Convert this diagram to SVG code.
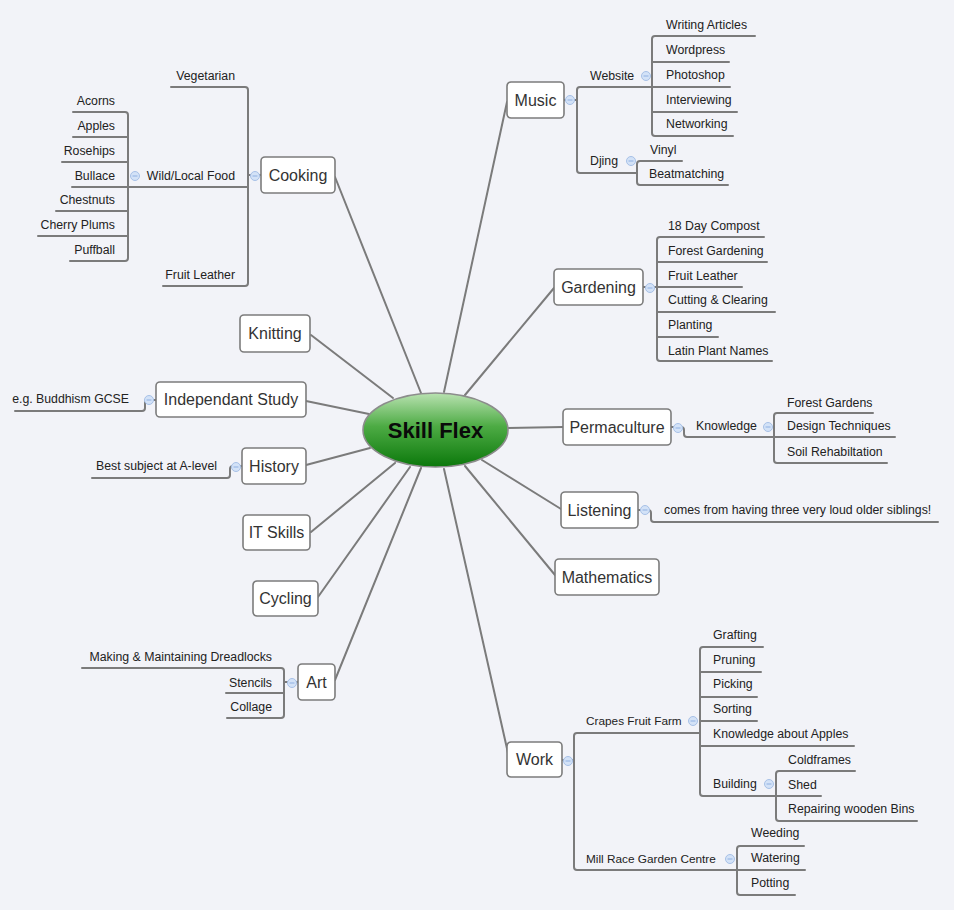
<svg xmlns="http://www.w3.org/2000/svg" width="954" height="910" viewBox="0 0 954 910">
<defs>
<linearGradient id="g" x1="0" y1="0" x2="0" y2="1">
<stop offset="0" stop-color="#b9e2b1"/>
<stop offset="0.45" stop-color="#4dab44"/>
<stop offset="1" stop-color="#0b780b"/>
</linearGradient>
<style>
.ln{stroke:#7b7b7b;stroke-width:2;fill:none;stroke-linecap:round}
.box{fill:#ffffff;stroke:#7c7c7c;stroke-width:1.6}
.nt{font-family:"Liberation Sans",Arial,sans-serif;font-size:16px;fill:#333;text-anchor:middle}
.t{font-family:"Liberation Sans",Arial,sans-serif;font-size:12.3px;fill:#222}
.s{font-size:11.8px}
.e{text-anchor:end}
.col{fill:#d3e2f7;stroke:#a7c1e7;stroke-width:1}
.mn{stroke:#8fb0e2;stroke-width:1}
</style>
</defs>
<rect x="0" y="0" width="954" height="910" fill="#f2f3f8"/>

<g id="connectors">
<path class="ln" d="M421,393 L335,177"/>
<path class="ln" d="M444,392 L507,102"/>
<path class="ln" d="M465,395 L554,288"/>
<path class="ln" d="M393,398 L311,335"/>
<path class="ln" d="M369,414 L306,401"/>
<path class="ln" d="M370,448 L306,465"/>
<path class="ln" d="M395,463 L311,532"/>
<path class="ln" d="M410,467 L318,597"/>
<path class="ln" d="M421,468 L335,680"/>
<path class="ln" d="M444,469 L508,753"/>
<path class="ln" d="M465,466 L555,575"/>
<path class="ln" d="M482,460 L561,509"/>
<path class="ln" d="M507,428 L563,427"/>

<!-- Cooking -->
<path class="ln" d="M248,175 L261,175"/>
<path class="ln" d="M171,87 L245,87 Q248,87 248,90 L248,283 Q248,286 245,286 L163,286"/>
<path class="ln" d="M72,187 L248,187"/>
<path class="ln" d="M73,112 L125,112 Q128,112 128,115 L128,258 Q128,261 125,261 L70,261"/>
<path class="ln" d="M73,137 L128,137 M62,162 L128,162 M56,211 L128,211 M38,236 L128,236"/>

<!-- Music -->
<path class="ln" d="M564,100 L577,100"/>
<path class="ln" d="M652,87 L580,87 Q577,87 577,90 L577,170 Q577,173 580,173 L637,173"/>
<path class="ln" d="M755,36 L655,36 Q652,36 652,39 L652,133 Q652,136 655,136 L733,136"/>
<path class="ln" d="M652,62 L729,62 M652,87 L730,87 M652,112 L737,112"/>
<path class="ln" d="M682,161 L640,161 Q637,161 637,164 L637,182 Q637,185 640,185 L728,185"/>

<!-- Gardening -->
<path class="ln" d="M643,287 L742,287"/>
<path class="ln" d="M764,237 L660,237 Q657,237 657,240 L657,358 Q657,361 660,361 L772,361"/>
<path class="ln" d="M657,262 L767,262 M657,312 L775,312 M657,337 L718,337"/>

<!-- Permaculture -->
<path class="ln" d="M671,427 L681,427 Q684,427 684,430 L684,434 Q684,437 687,437 L895,437"/>
<path class="ln" d="M873,413 L777,413 Q774,413 774,416 L774,460 Q774,463 777,463 L887,463"/>

<!-- Listening -->
<path class="ln" d="M638,510 L648,510 Q651,510 651,513 L651,519 Q651,522 654,522 L938,522"/>

<!-- Work -->
<path class="ln" d="M562,760 L574,760"/>
<path class="ln" d="M700,733 L577,733 Q574,733 574,736 L574,867 Q574,870 577,870 L805,870"/>
<path class="ln" d="M763,647 L703,647 Q700,647 700,650 L700,793 Q700,796 703,796 L821,796"/>
<path class="ln" d="M700,672 L761,672 M700,697 L757,697 M700,721 L757,721 M700,746 L854,746"/>
<path class="ln" d="M855,771 L779,771 Q776,771 776,774 L776,818 Q776,821 779,821 L917,821"/>
<path class="ln" d="M804,846 L740,846 Q737,846 737,849 L737,892 Q737,895 740,895 L795,895"/>

<!-- Independant Study / History -->
<path class="ln" d="M156,400 L148,400 Q145,400 145,403 L145,408 Q145,411 142,411 L15,411"/>
<path class="ln" d="M242,466 L233,466 Q230,466 230,469 L230,475 Q230,478 227,478 L92,478"/>

<!-- Art -->
<path class="ln" d="M298,682 L284,682"/>
<path class="ln" d="M82,668 L281,668 Q284,668 284,671 L284,715 Q284,718 281,718 L227,718"/>
<path class="ln" d="M226,693 L284,693"/>
</g>

<g id="collapse">
<g><circle class="col" cx="255" cy="176" r="4.5"/><path class="mn" d="M252.5,176 H257.5"/></g>
<g><circle class="col" cx="135" cy="176" r="4.5"/><path class="mn" d="M132.5,176 H137.5"/></g>
<g><circle class="col" cx="570" cy="100" r="4.5"/><path class="mn" d="M567.5,100 H572.5"/></g>
<g><circle class="col" cx="646" cy="76" r="4.5"/><path class="mn" d="M643.5,76 H648.5"/></g>
<g><circle class="col" cx="631" cy="161" r="4.5"/><path class="mn" d="M628.5,161 H633.5"/></g>
<g><circle class="col" cx="650" cy="288" r="4.5"/><path class="mn" d="M647.5,288 H652.5"/></g>
<g><circle class="col" cx="678" cy="428" r="4.5"/><path class="mn" d="M675.5,428 H680.5"/></g>
<g><circle class="col" cx="768" cy="427" r="4.5"/><path class="mn" d="M765.5,427 H770.5"/></g>
<g><circle class="col" cx="645" cy="510" r="4.5"/><path class="mn" d="M642.5,510 H647.5"/></g>
<g><circle class="col" cx="568" cy="761" r="4.5"/><path class="mn" d="M565.5,761 H570.5"/></g>
<g><circle class="col" cx="693" cy="721" r="4.5"/><path class="mn" d="M690.5,721 H695.5"/></g>
<g><circle class="col" cx="769" cy="784" r="4.5"/><path class="mn" d="M766.5,784 H771.5"/></g>
<g><circle class="col" cx="730" cy="859" r="4.5"/><path class="mn" d="M727.5,859 H732.5"/></g>
<g><circle class="col" cx="149" cy="400" r="4.5"/><path class="mn" d="M146.5,400 H151.5"/></g>
<g><circle class="col" cx="236" cy="467" r="4.5"/><path class="mn" d="M233.5,467 H238.5"/></g>
<g><circle class="col" cx="292" cy="683" r="4.5"/><path class="mn" d="M289.5,683 H294.5"/></g>
</g>

<g id="center">
<ellipse cx="435.5" cy="430" rx="72.5" ry="37" fill="url(#g)" stroke="#8c8c8c" stroke-width="1.6"/>
<text x="435.5" y="438" font-family="Liberation Sans,Arial,sans-serif" font-size="22" font-weight="bold" fill="#0a0a0a" text-anchor="middle">Skill Flex</text>
</g>

<g id="node-cooking"><rect class="box" x="261" y="157" width="74" height="36" rx="4"/><text class="nt" x="298" y="180.5">Cooking</text></g>
<g id="node-music"><rect class="box" x="507" y="82" width="57" height="36" rx="4"/><text class="nt" x="535.5" y="105.5">Music</text></g>
<g id="node-gardening"><rect class="box" x="554" y="269" width="89" height="36" rx="4"/><text class="nt" x="598.5" y="292.5">Gardening</text></g>
<g id="node-permaculture"><rect class="box" x="563" y="409" width="108" height="36" rx="4"/><text class="nt" x="617" y="432.5">Permaculture</text></g>
<g id="node-listening"><rect class="box" x="561" y="492" width="77" height="36" rx="4"/><text class="nt" x="599.5" y="515.5">Listening</text></g>
<g id="node-mathematics"><rect class="box" x="555" y="559" width="104" height="36" rx="4"/><text class="nt" x="607" y="582.5">Mathematics</text></g>
<g id="node-work"><rect class="box" x="507" y="742" width="55" height="35" rx="4"/><text class="nt" x="534.5" y="765">Work</text></g>
<g id="node-knitting"><rect class="box" x="240" y="315" width="70" height="37" rx="4"/><text class="nt" x="275" y="339">Knitting</text></g>
<g id="node-independant"><rect class="box" x="156" y="382" width="150" height="35" rx="4"/><text class="nt" x="231" y="405">Independant Study</text></g>
<g id="node-history"><rect class="box" x="242" y="448" width="64" height="36" rx="4"/><text class="nt" x="274" y="471.5">History</text></g>
<g id="node-itskills"><rect class="box" x="243" y="515" width="67" height="35" rx="4"/><text class="nt" x="276.5" y="538">IT Skills</text></g>
<g id="node-cycling"><rect class="box" x="253" y="581" width="65" height="35" rx="4"/><text class="nt" x="285.5" y="604">Cycling</text></g>
<g id="node-art"><rect class="box" x="298" y="664" width="37" height="36" rx="4"/><text class="nt" x="316.5" y="687.5">Art</text></g>

<g id="cooking-children">
<text class="t e" x="235" y="80">Vegetarian</text>
<text class="t e" x="235" y="180">Wild/Local Food</text>
<text class="t e" x="235" y="279">Fruit Leather</text>
<text class="t e" x="115" y="105">Acorns</text>
<text class="t e" x="115" y="130">Apples</text>
<text class="t e" x="115" y="155">Rosehips</text>
<text class="t e" x="115" y="180">Bullace</text>
<text class="t e" x="115" y="204">Chestnuts</text>
<text class="t e" x="115" y="229">Cherry Plums</text>
<text class="t e" x="115" y="254">Puffball</text>
</g>

<g id="music-children">
<text class="t" x="590" y="80">Website</text>
<text class="t" x="666" y="29">Writing Articles</text>
<text class="t" x="666" y="54">Wordpress</text>
<text class="t" x="666" y="79">Photoshop</text>
<text class="t" x="666" y="104">Interviewing</text>
<text class="t" x="666" y="128">Networking</text>
<text class="t" x="590" y="165">Djing</text>
<text class="t" x="650" y="154">Vinyl</text>
<text class="t" x="649" y="178">Beatmatching</text>
</g>

<g id="gardening-children">
<text class="t" x="668" y="230">18 Day Compost</text>
<text class="t" x="668" y="255">Forest Gardening</text>
<text class="t" x="668" y="280">Fruit Leather</text>
<text class="t" x="668" y="304">Cutting &amp; Clearing</text>
<text class="t" x="668" y="329">Planting</text>
<text class="t" x="668" y="355">Latin Plant Names</text>
</g>

<g id="permaculture-children">
<text class="t" x="696" y="430">Knowledge</text>
<text class="t" x="787" y="407">Forest Gardens</text>
<text class="t" x="787" y="430">Design Techniques</text>
<text class="t" x="787" y="456">Soil Rehabiltation</text>
</g>

<g id="listening-children">
<text class="t" x="664" y="514">comes from having three very loud older siblings!</text>
</g>

<g id="work-children">
<text class="t s" x="586" y="725">Crapes Fruit Farm</text>
<text class="t" x="713" y="639">Grafting</text>
<text class="t" x="713" y="664">Pruning</text>
<text class="t" x="713" y="688">Picking</text>
<text class="t" x="713" y="713">Sorting</text>
<text class="t" x="713" y="738">Knowledge about Apples</text>
<text class="t" x="713" y="788">Building</text>
<text class="t" x="788" y="764">Coldframes</text>
<text class="t" x="788" y="789">Shed</text>
<text class="t" x="788" y="813">Repairing wooden Bins</text>
<text class="t s" x="586" y="863">Mill Race Garden Centre</text>
<text class="t" x="751" y="837">Weeding</text>
<text class="t" x="751" y="862">Watering</text>
<text class="t" x="751" y="887">Potting</text>
</g>

<g id="study-children">
<text class="t e" x="129" y="403">e.g. Buddhism GCSE</text>
</g>
<g id="history-children">
<text class="t e" x="217" y="470">Best subject at A-level</text>
</g>

<g id="art-children">
<text class="t e" x="272" y="661">Making &amp; Maintaining Dreadlocks</text>
<text class="t e" x="272" y="687">Stencils</text>
<text class="t e" x="272" y="711">Collage</text>
</g>
</svg>
